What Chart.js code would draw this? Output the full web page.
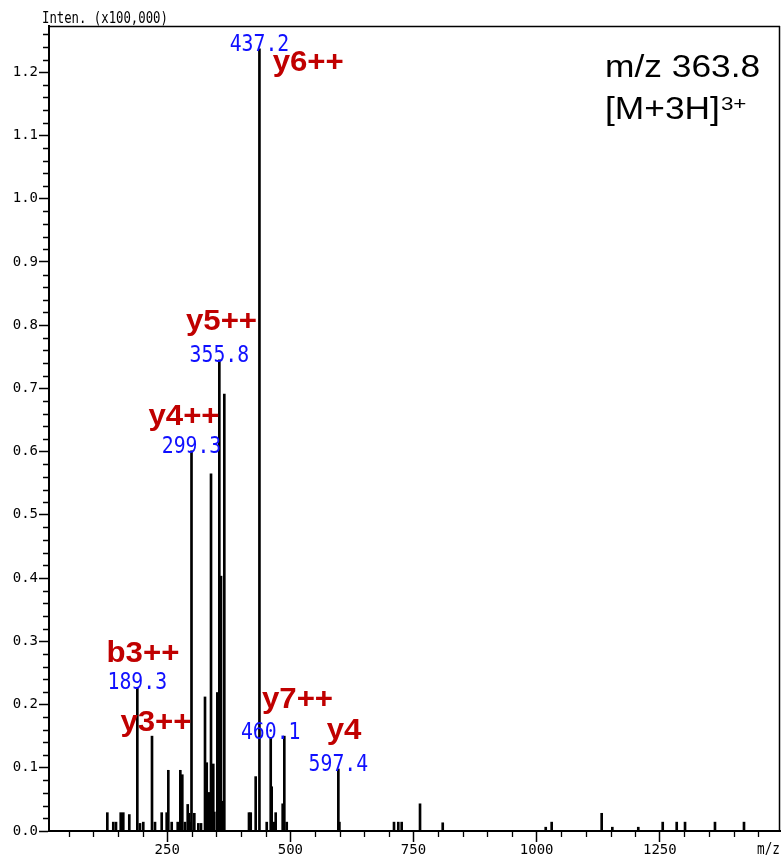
<!DOCTYPE html>
<html>
<head>
<meta charset="utf-8">
<script src="https://cdn.jsdelivr.net/npm/chart.js@4/dist/chart.umd.min.js"></script>
<style>
  html, body { margin: 0; padding: 0; background: #fff; }
</style>
</head>
<body>
<canvas id="spec" width="782" height="858"></canvas>
<script>
// peak list (m/z, intensity x100,000)
const peakMz = [
  128.4, 140.5, 146.0, 155.6, 160.8, 173.0, 189.3, 194.7, 201.4, 219.1,
  225.2, 238.8, 248.9, 252.2, 259.1, 271.3, 276.6, 278.0, 280.6, 286.1,
  291.6, 294.8, 297.7, 299.3, 305.0, 313.1, 318.6, 326.7, 330.2, 335.4,
  338.9, 343.5, 345.6, 351.7, 355.8, 359.2, 361.4, 365.9, 416.0, 419.5,
  429.6, 437.2, 452.0, 460.1, 462.1, 466.2, 470.2, 484.4, 487.7, 492.6,
  597.4, 599.5, 710.4, 719.1, 726.0, 763.2, 809.3, 1018.4, 1030.5, 1132.0,
  1153.6, 1206.3, 1255.9, 1284.3, 1301.2, 1362.0, 1420.9
];
const peakInten = [
  0.029, 0.014, 0.014, 0.029, 0.029, 0.026, 0.227, 0.012, 0.014, 0.150,
  0.014, 0.029, 0.029, 0.096, 0.014, 0.014, 0.096, 0.042, 0.089, 0.014,
  0.042, 0.028, 0.014, 0.601, 0.028, 0.012, 0.012, 0.212, 0.108, 0.061,
  0.565, 0.106, 0.030, 0.219, 0.745, 0.403, 0.047, 0.691, 0.029, 0.029,
  0.086, 1.237, 0.014, 0.148, 0.070, 0.014, 0.029, 0.043, 0.150, 0.014,
  0.098, 0.014, 0.014, 0.014, 0.014, 0.043, 0.013, 0.006, 0.014, 0.028,
  0.006, 0.006, 0.014, 0.014, 0.014, 0.014, 0.014
];

// peaks with their m/z printed in blue
const labeledMz = [437.2, 355.8, 299.3, 189.3, 460.1, 597.4];

// fragment ion names in red
const ionNames = ['y6++', 'y5++', 'y4++', 'b3++', 'y3++', 'y7++', 'y4'];

const xTickValues = [250, 500, 750, 1000, 1250];
const yTickValues = [0, 0.1, 0.2, 0.3, 0.4, 0.5, 0.6, 0.7, 0.8, 0.9, 1.0, 1.1, 1.2];

const yAxisTitle = 'Inten. (x100,000)';
const xAxisTitle = 'm/z';
const precursorLine1 = 'm/z 363.8';
const precursorLine2 = '[M+3H]';
const precursorCharge = '3+';

// where the ion names sit, in data units (m/z, intensity of text baseline)
const ionPlacement = [
  { mz: 536.2, y: 1.202 },
  { mz: 360.2, y: 0.792 },
  { mz: 284.1, y: 0.642 },
  { mz: 200.8, y: 0.267 },
  { mz: 227.2, y: 0.158 },
  { mz: 514.5, y: 0.194 },
  { mz: 608.9, y: 0.145 }
];

const MONO = '"DejaVu Sans Mono", monospace';
const SANS = '"Liberation Sans", Arial, sans-serif';

function drawText(ctx, text, x, y, font, color, align, sx) {
  ctx.save();
  ctx.font = font;
  ctx.fillStyle = color;
  ctx.textAlign = 'left';
  ctx.textBaseline = 'alphabetic';
  const w = ctx.measureText(text).width * sx;
  let left = x;
  if (align === 'center') left = x - w / 2;
  else if (align === 'right') left = x - w;
  ctx.translate(left, y);
  ctx.scale(sx, 1);
  ctx.fillText(text, 0, 0);
  ctx.restore();
  return w;
}

const overlay = {
  id: 'overlay',
  afterDraw(chart) {
    const ctx = chart.ctx;
    const area = chart.chartArea;
    const xs = chart.scales.x;
    const ys = chart.scales.y;

    // top and right frame
    ctx.save();
    ctx.strokeStyle = '#000';
    ctx.lineWidth = 1.5;
    ctx.beginPath();
    ctx.moveTo(area.left, area.top + 0.5);
    ctx.lineTo(area.right, area.top + 0.5);
    ctx.moveTo(area.right - 0.5, area.top);
    ctx.lineTo(area.right - 0.5, area.bottom);
    ctx.stroke();

    // minor ticks
    ctx.lineWidth = 1.3;
    ctx.beginPath();
    for (let i = 1; i * 0.02 < ys.max; i++) {
      if (i % 5 === 0) continue;
      const py = Math.round(ys.getPixelForValue(i * 0.02)) + 0.5;
      ctx.moveTo(area.left - 6, py);
      ctx.lineTo(area.left, py);
    }
    for (let v = 50; v < xs.max; v += 50) {
      if (v % 250 === 0) continue;
      const px = Math.round(xs.getPixelForValue(v)) + 0.5;
      ctx.moveTo(px, area.bottom);
      ctx.lineTo(px, area.bottom + 6);
    }
    ctx.stroke();
    ctx.restore();

    // axis titles
    drawText(ctx, yAxisTitle, 42, 23, '15px ' + MONO, '#000', 'left', 0.82);
    drawText(ctx, xAxisTitle, area.right, 854, '15px ' + MONO, '#000', 'right', 0.85);

    // blue m/z labels
    labeledMz.forEach(mz => {
      let best = 0;
      peakMz.forEach((m, i) => { if (Math.abs(m - mz) < Math.abs(peakMz[best] - mz)) best = i; });
      const px = xs.getPixelForValue(mz);
      const py = ys.getPixelForValue(peakInten[best]);
      drawText(ctx, mz.toFixed(1), px, py + 2, '23px ' + MONO, '#1010ff', 'center', 0.86);
    });

    // red ion names
    ionNames.forEach((name, i) => {
      const p = ionPlacement[i];
      drawText(ctx, name, xs.getPixelForValue(p.mz), ys.getPixelForValue(p.y),
        'bold 30px ' + SANS, '#c00000', 'center', 1.04);
    });

    // precursor note
    const nx = area.right - 175;
    drawText(ctx, precursorLine1, nx, area.top + 51, '31px ' + SANS, '#000', 'left', 1.14);
    const w2 = drawText(ctx, precursorLine2, nx, area.top + 93, '31px ' + SANS, '#000', 'left', 1.14);
    drawText(ctx, precursorCharge, nx + w2 + 1, area.top + 84, '19px ' + SANS, '#000', 'left', 1.18);
  }
};

new Chart(document.getElementById('spec'), {
  type: 'bar',
  data: {
    datasets: [{
      data: peakMz.map((m, i) => ({ x: m, y: peakInten[i] })),
      backgroundColor: '#000',
      borderWidth: 0,
      barThickness: 2,
      grouped: false
    }]
  },
  options: {
    responsive: false,
    animation: false,
    devicePixelRatio: 1,
    layout: { padding: { left: 0, right: 2, top: 26, bottom: 0 } },
    plugins: { legend: { display: false }, tooltip: { enabled: false } },
    scales: {
      x: {
        type: 'linear',
        min: 10,
        max: 1494,
        offset: false,
        afterBuildTicks: s => { s.ticks = xTickValues.map(v => ({ value: v })); },
        afterFit: s => { s.height = 27; },
        grid: { offset: false, drawOnChartArea: false, tickLength: 11, tickColor: '#000', tickWidth: 1.5 },
        border: { display: true, color: '#000', width: 2 },
        ticks: {
          padding: 0, maxRotation: 0, autoSkip: false, color: '#000',
          font: { family: MONO, size: 14 },
          callback: v => String(v)
        }
      },
      y: {
        type: 'linear',
        min: 0,
        max: 1.273,
        afterBuildTicks: s => { s.ticks = yTickValues.map(v => ({ value: v })); },
        afterFit: s => { s.width = 49; },
        grid: { drawOnChartArea: false, tickLength: 10, tickColor: '#000', tickWidth: 1.5 },
        border: { display: true, color: '#000', width: 2 },
        ticks: {
          padding: 1, color: '#000',
          font: { family: MONO, size: 14 },
          callback: v => Number(v).toFixed(1)
        }
      }
    }
  },
  plugins: [overlay]
});
</script>
</body>
</html>
